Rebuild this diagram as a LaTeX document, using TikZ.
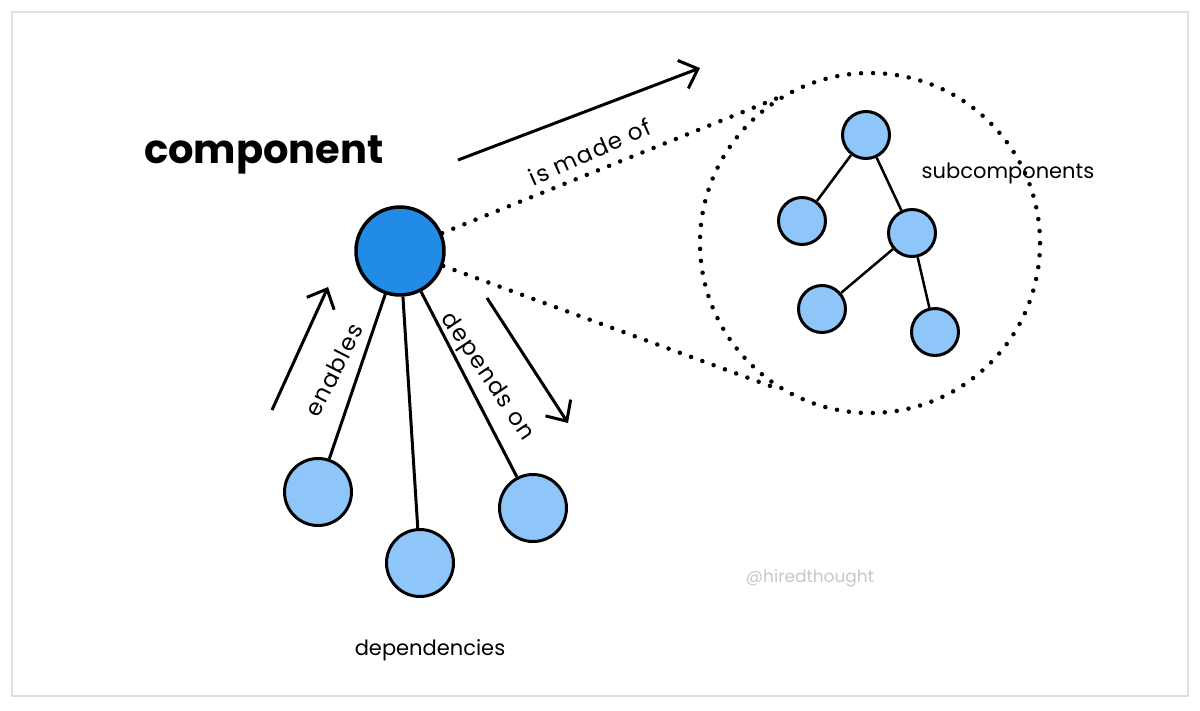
\documentclass[tikz,border=0pt]{standalone}
\usepackage{fontspec}
\setmainfont{Poppins}
\usetikzlibrary{positioning,arrows.meta}
\definecolor{deepblue}{HTML}{228BE6}
\definecolor{paleblue}{HTML}{8FC6FA}
\tikzset{
	>={Straight Barb[length=16pt,width=30pt]}
}

\begin{document}
\begin{tikzpicture}[
x = 1pt, y = -1pt,
node distance = 80pt and 60pt,
on grid,
every node/.style = {
	font = \fontsize{21}{25}\selectfont
},
core/.style = {
	circle, draw, line width = 3.5pt, fill = deepblue, minimum size = 88pt
},
dep/.style = {
	circle, draw, line width = 3pt, fill = paleblue, minimum size = 67pt
},
sub/.style = {
	circle, draw, line width = 3pt, fill = paleblue, minimum size = 47pt
},
dotline/.style = {
	line width = 4.5pt, line cap = round, dash pattern = on 0pt off 12pt
},
link/.style = {
	line width = 3pt
},
tilt/.style = {
	font = \fontsize{23}{27}\selectfont\addfontfeature{LetterSpace=6}
},
big/.style = {
	font = \fontsize{40}{48}\selectfont\bfseries
},
faint/.style = {
	font = \fontsize{17}{20}\selectfont, text = black!22
}
]
\useasboundingbox (0,0) rectangle (1200,710);
\draw[black!12, line width = 2pt] (12,12) rectangle (1188,696);

\node[big]						(title)		at (264,155)	{component};
\node[core]						(comp)		at (400,251)	{};

\node[dep]						(dep1)		at (318,492)	{};
\node[dep]						(dep2)		at (420,563)	{};
\node[dep]						(dep3)		at (533,508)	{};
\node							(deps)		at (430,650)	{dependencies};

\node[circle, draw, dotline, minimum size = 340pt]	(zoomin)	at (870,243)	{};
\node[sub]						(top)		at (866,135)	{};
\node[sub, below left=86pt and 64pt of top]		(subl)	{};
\node[sub, below right=98pt and 46pt of top]	(subr)	{};
\node[sub, below left=76pt and 90pt of subr]	(subrl)	{};
\node[sub, below right=99pt and 23pt of subr]	(subrr)	{};
\node							(subs)		at (1008,173)	{subcomponents};

\node[tilt, rotate=63]			(enables)	at (334,370)	{enables};
\node[tilt, rotate=-56]			(depends)	at (487,377)	{depends on};
\node[tilt, rotate=24]			(made)		at (590,152)	{is made of};
\node[faint]					(mark)		at (810,578)	{@hiredthought};

\coordinate (en1) at (272,410);
\coordinate (en2) at (328,287);
\coordinate (dp1) at (487,298);
\coordinate (dp2) at (568,423);
\coordinate (md1) at (458,160);
\coordinate (md2) at (700,68);

\draw[link] (comp) -- (dep1);
\draw[link] (comp) -- (dep2);
\draw[link] (comp) -- (dep3);
\draw[line width = 2.5pt] (top) -- (subl);
\draw[line width = 2.5pt] (top) -- (subr);
\draw[line width = 2.5pt] (subr) -- (subrl);
\draw[line width = 2.5pt] (subr) -- (subrr);
\draw[dotline] (comp.23) -- (zoomin.123);
\draw[dotline] (comp.-19) -- (zoomin.-122);
\draw[link, ->] (en1) -- (en2);
\draw[link, ->] (dp1) -- (dp2);
\draw[link, ->] (md1) -- (md2);
\end{tikzpicture}
\end{document}
